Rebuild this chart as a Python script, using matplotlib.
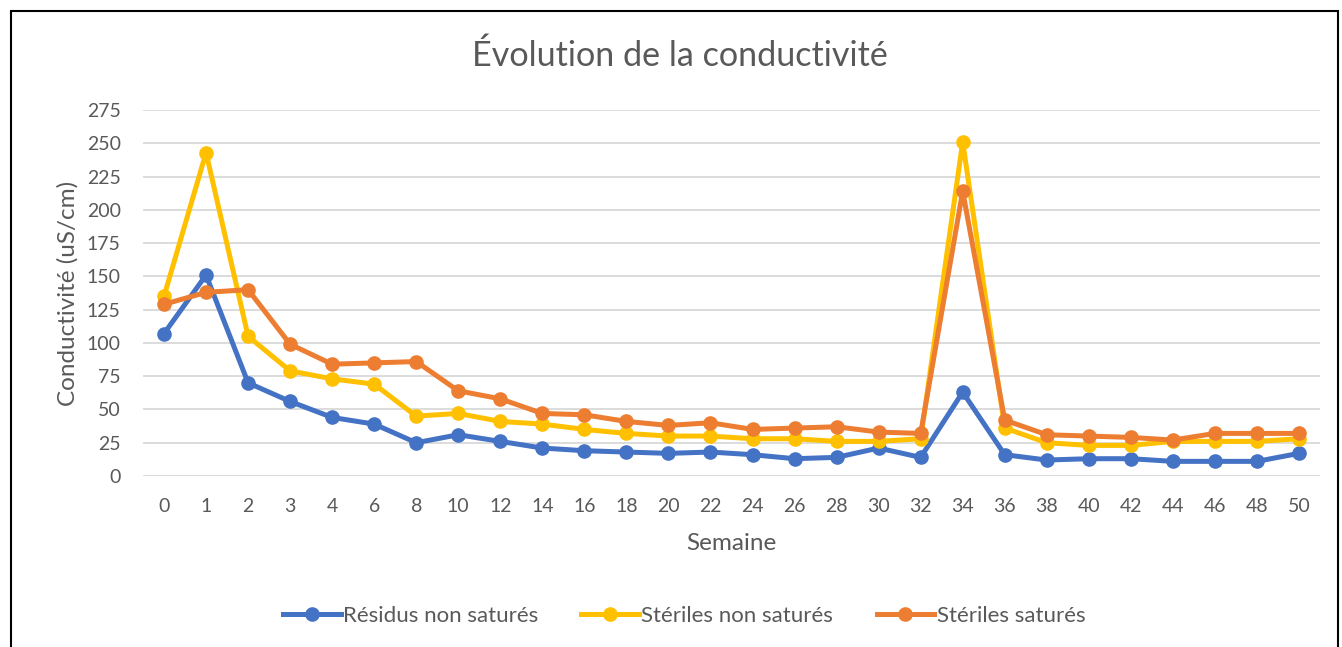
import matplotlib
matplotlib.use("Agg")
import matplotlib.pyplot as plt
from matplotlib.lines import Line2D
from matplotlib.patches import Rectangle

weeks = ["0", "1", "2", "3", "4", "6", "8", "10", "12", "14", "16", "18", "20", "22",
         "24", "26", "28", "30", "32", "34", "36", "38", "40", "42", "44", "46", "48", "50"]
residus_non_satures = [107, 151, 70, 56, 44, 39, 25, 31, 26, 21, 19, 18, 17, 18,
                       16, 13, 14, 21, 14, 63, 16, 12, 13, 13, 11, 11, 11, 17]
steriles_non_satures = [135, 243, 105, 79, 73, 69, 45, 47, 41, 39, 35, 32, 30, 30,
                        28, 28, 26, 26, 28, 251, 36, 25, 23, 23, 26, 26, 26, 28]
steriles_satures = [129, 138, 140, 99, 84, 85, 86, 64, 58, 47, 46, 41, 38, 40,
                    35, 36, 37, 33, 32, 214, 42, 31, 30, 29, 27, 32, 32, 32]
series_names = ["Résidus non saturés", "Stériles non saturés", "Stériles saturés"]
colors = ["#4472C4", "#FFC000", "#ED7D31"]

plt.rcParams['font.family'] = ['Lato', 'DejaVu Sans']
text_color = "#595959"

fig = plt.figure(figsize=(13.42, 6.47), dpi=100)
ax = fig.add_axes([143/1342, 1-476/647, (1320-143)/1342, (476-110)/647])

x = list(range(len(weeks)))
for vals, name, c in zip([residus_non_satures, steriles_non_satures, steriles_satures],
                         series_names, colors):
    ax.plot(x, vals, color=c, lw=3.6, marker='o', markersize=9.5, label=name,
            solid_joinstyle='round', clip_on=False)

ax.set_xlim(-0.5, len(weeks) - 0.5)
ax.set_ylim(0, 275)
ax.set_yticks(range(0, 276, 25))
ax.set_xticks(x)
ax.set_xticklabels(weeks)
ax.grid(axis='y', color="#D9D9D9", lw=1.3)
ax.set_axisbelow(True)
for s in ax.spines.values():
    s.set_visible(False)
ax.tick_params(axis='both', length=0, labelsize=14, colors=text_color)
ax.tick_params(axis='y', pad=16)
ax.tick_params(axis='x', pad=16)

ax.set_xlabel("Semaine", fontsize=17.5, color=text_color, labelpad=13)
ax.set_ylabel("Conductivité (uS/cm)", fontsize=17.5, color=text_color, labelpad=6)

fig.text(680/1342, 1-56/647, "Évolution de la conductivité", ha='center', va='center',
         fontsize=24.6, color=text_color)

handles = [Line2D([0], [0], color=c, lw=3.6, marker='o', markersize=9.5) for c in colors]
fig.legend(handles, series_names, loc='center', bbox_to_anchor=(684/1342, 1-616/647),
           ncol=3, frameon=False, fontsize=16, labelcolor=text_color,
           handlelength=2.6, handletextpad=0.1, columnspacing=1.95)

fig.patches.append(Rectangle((11/1342, -0.1), (1338-11)/1342, 1.1 - 11/647,
                             transform=fig.transFigure, fill=False,
                             edgecolor="#000000", lw=1.5))

fig.savefig("out.png", dpi=100, facecolor="white")
